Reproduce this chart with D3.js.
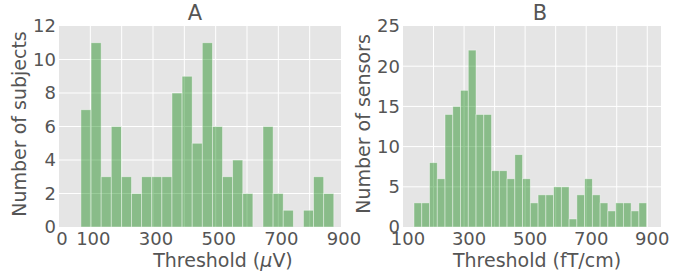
<!DOCTYPE html>
<html>
	<head>
		<meta charset="utf-8">
		<title>Threshold histograms</title>
		<script src="https://d3js.org/d3.v7.min.js"></script>
		<style type="text/css">
			body { margin: 0; background: #fff; }
			text { font-family: 'DejaVu Sans', sans-serif; fill: #555; }
		</style>
	</head>
	<body>
		<script type="text/javascript">

			var svgWidth = 697;
			var svgHeight = 280;

			// Panel A: subjects per threshold bin (uV)
			var countsA = [7, 11, 3, 6, 3, 2, 3, 3, 3, 8, 9, 5, 11, 6, 3, 4, 2, 0, 6, 2, 1, 0, 1, 3, 2];
			var rangeA = [70, 877];
			var xTicksA = [0, 100, 300, 500, 700, 900];
			var xGridA = [100, 200, 300, 400, 500, 600, 700, 800];
			var yTicksA = [0, 2, 4, 6, 8, 10, 12];

			// Panel B: sensors per threshold bin (fT/cm)
			var countsB = [3, 3, 8, 6, 14, 15, 17, 22, 14, 14, 7, 7, 6, 9, 6, 3, 4, 4, 5, 5, 1, 4, 6, 4, 3, 2, 3, 3, 2, 3];
			var rangeB = [136, 898];
			var xTicksB = [100, 300, 500, 700, 900];
			var xGridB = [200, 300, 400, 500, 600, 700, 800, 900];
			var yTicksB = [0, 5, 10, 15, 20, 25];

			var plotTop = 26, plotBottom = 227;

			var svg = d3.select('body')
				.append('svg')
				.attr('width', svgWidth)
				.attr('height', svgHeight);

			function panel(opt) {
				var xScale = d3.scaleLinear().domain(opt.xDomain).range([opt.left, opt.right]);
				var yScale = d3.scaleLinear().domain(opt.yDomain).range([plotBottom, plotTop]);
				var g = svg.append('g');

				g.append('rect')
					.attr('x', opt.left).attr('y', plotTop)
					.attr('width', opt.right - opt.left).attr('height', plotBottom - plotTop)
					.attr('fill', '#e5e5e5');

				// grid
				g.selectAll('line.gx').data(opt.xGrid).enter().append('line')
					.attr('x1', function(d) { return xScale(d); })
					.attr('x2', function(d) { return xScale(d); })
					.attr('y1', plotTop).attr('y2', plotBottom)
					.attr('stroke', '#fff').attr('stroke-width', 1);
				g.selectAll('line.gy').data(opt.yTicks.slice(1, -1)).enter().append('line')
					.attr('x1', opt.left).attr('x2', opt.right)
					.attr('y1', function(d) { return yScale(d); })
					.attr('y2', function(d) { return yScale(d); })
					.attr('stroke', '#fff').attr('stroke-width', 1);

				// bars
				var n = opt.counts.length;
				var w = (opt.range[1] - opt.range[0]) / n;
				g.selectAll('rect.bar').data(opt.counts).enter().append('rect')
					.attr('x', function(d, i) { return xScale(opt.range[0] + i * w); })
					.attr('width', xScale(opt.range[0] + w) - xScale(opt.range[0]))
					.attr('y', function(d) { return yScale(d); })
					.attr('height', function(d) { return yScale(0) - yScale(d); })
					.attr('fill', 'green')
					.attr('fill-opacity', 0.4)
					.attr('stroke', '#fff')
					.attr('stroke-opacity', 0.5)
					.attr('stroke-width', 0.8);

				// tick labels
				g.selectAll('text.xt').data(opt.xTicks).enter().append('text')
					.attr('x', function(d) { return xScale(d) + opt.tickShift; })
					.attr('y', 245)
					.attr('text-anchor', 'middle')
					.attr('font-size', '18px')
					.text(function(d) { return d; });
				g.selectAll('text.yt').data(opt.yTicks).enter().append('text')
					.attr('x', opt.left - 3)
					.attr('y', function(d) { return yScale(d); })
					.attr('dy', '0.36em')
					.attr('text-anchor', 'end')
					.attr('font-size', '18px')
					.text(function(d) { return d; });

				// title
				g.append('text')
					.attr('x', opt.titleX)
					.attr('y', 20)
					.attr('text-anchor', 'middle')
					.attr('font-size', '21px')
					.text(opt.title);

				// y label
				g.append('text')
					.attr('transform', 'translate(' + (opt.left - 33) + ',124) rotate(-90)')
					.attr('text-anchor', 'middle')
					.attr('font-size', '19px')
					.text(opt.yLabel);

				// x label
				var xl = g.append('text')
					.attr('x', opt.xLabelX)
					.attr('y', 267)
					.attr('text-anchor', 'middle')
					.attr('font-size', '19px');
				opt.xLabel(xl);
			}

			panel({
				left: 59, right: 341,
				xDomain: [0, 900], yDomain: [0, 12],
				counts: countsA, range: rangeA,
				xTicks: xTicksA, xGrid: xGridA, yTicks: yTicksA,
				tickShift: 3, titleX: 195, xLabelX: 223,
				title: 'A', yLabel: 'Number of subjects',
				xLabel: function(t) {
					t.append('tspan').text('Threshold (');
					t.append('tspan').attr('font-style', 'italic').text('\u03bc');
					t.append('tspan').text('V)');
				}
			});

			panel({
				left: 403, right: 661,
				xDomain: [100, 945], yDomain: [0, 25],
				counts: countsB, range: rangeB,
				xTicks: xTicksB, xGrid: xGridB, yTicks: yTicksB,
				tickShift: 5, titleX: 540, xLabelX: 537,
				title: 'B', yLabel: 'Number of sensors',
				xLabel: function(t) {
					t.text('Threshold (fT/cm)');
				}
			});

		</script>
	</body>
</html>
